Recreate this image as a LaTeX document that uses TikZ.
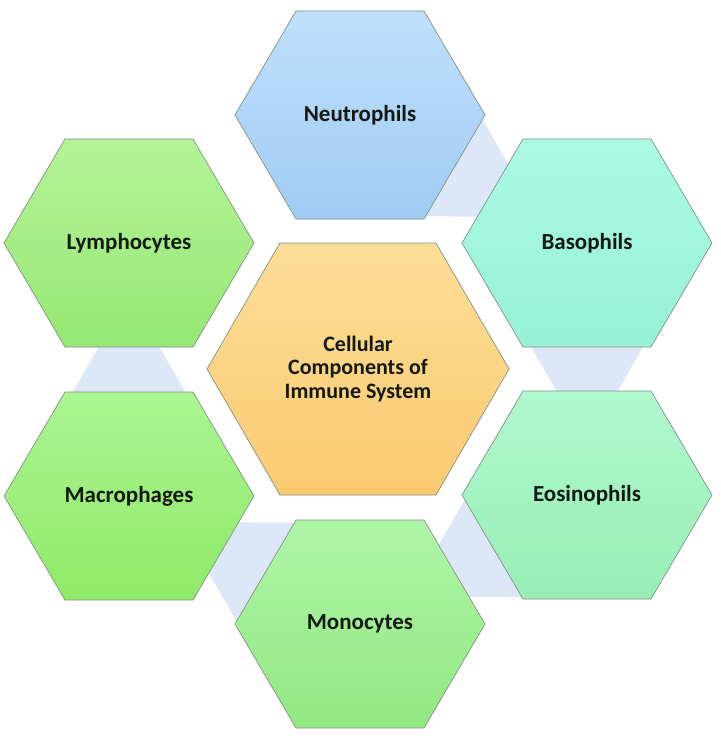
\documentclass[tikz,border=0pt]{standalone}
\usepackage{fontspec}
\setmainfont{Carlito}
\usetikzlibrary{calc}
\definecolor{neuTop}{RGB}{192,223,250}
\definecolor{neuBot}{RGB}{160,204,245}
\definecolor{basTop}{RGB}{172,250,228}
\definecolor{basBot}{RGB}{150,242,214}
\definecolor{eosTop}{RGB}{176,248,205}
\definecolor{eosBot}{RGB}{152,238,182}
\definecolor{monTop}{RGB}{176,245,168}
\definecolor{monBot}{RGB}{146,232,130}
\definecolor{macTop}{RGB}{170,245,145}
\definecolor{macBot}{RGB}{144,234,104}
\definecolor{lymTop}{RGB}{180,243,152}
\definecolor{lymBot}{RGB}{150,232,115}
\definecolor{cenTop}{RGB}{252,222,152}
\definecolor{cenBot}{RGB}{250,202,112}
\definecolor{connfill}{RGB}{220,231,247}
\definecolor{hexgray}{RGB}{130,145,135}
\definecolor{txt}{RGB}{20,25,20}
\tikzset{
  hexline/.style={draw=hexgray, line width=0.7pt},
  cell/.style={font=\bfseries\fontsize{23}{25}\selectfont, text=txt, align=center, inner sep=0pt},
  hub/.style={font=\bfseries\fontsize{22}{23.5}\selectfont, text=txt, align=center, inner sep=0pt},
  link/.style={fill=connfill, draw=none},
}
\newcommand\hexcell[3]{%
  \path[hexline, top color=#2, bottom color=#3]
    ($(#1)+(125,0)$) -- ($(#1)+(64,-104)$) -- ($(#1)+(-64,-104)$) --
    ($(#1)+(-125,0)$) -- ($(#1)+(-64,104)$) -- ($(#1)+(64,104)$) -- cycle;}
% connector from #1 to #2, narrowing toward #2, rotation #3
\newcommand\linkpiece[3]{%
  \begin{scope}[shift={($(#1)!0.5!(#2)$)}, rotate=#3]
    \path[link] (-60.6pt,-30pt) -- (60.6pt,-30pt) -- (26pt,30pt) -- (-26pt,30pt) -- cycle;
  \end{scope}}
\begin{document}
\begin{tikzpicture}[x=1pt,y=-1pt]
  \useasboundingbox (0,0) rectangle (720,738);
  \fill[white] (0,0) rectangle (720,738);
  % centres
  \coordinate (c-neu) at (360,115);
  \coordinate (c-bas) at (587,243);
  \coordinate (c-eos) at (587,495);
  \coordinate (c-mon) at (360,624);
  \coordinate (c-mac) at (129,496);
  \coordinate (c-lym) at (129,243);
  \coordinate (c-cen) at (358,369);
  % connectors (behind)
  \linkpiece{c-neu}{c-bas}{-120}
  \linkpiece{c-bas}{c-eos}{180}
  \linkpiece{c-eos}{c-mon}{120}
  \linkpiece{c-mon}{c-mac}{60}
  \linkpiece{c-mac}{c-lym}{0}
  % hexagons
  \hexcell{c-neu}{neuTop}{neuBot}
  \hexcell{c-bas}{basTop}{basBot}
  \hexcell{c-eos}{eosTop}{eosBot}
  \hexcell{c-mon}{monTop}{monBot}
  \hexcell{c-mac}{macTop}{macBot}
  \hexcell{c-lym}{lymTop}{lymBot}
  \path[hexline, top color=cenTop, bottom color=cenBot]
    ($(c-cen)+(151,0)$) -- ($(c-cen)+(78,-126)$) -- ($(c-cen)+(-78,-126)$) --
    ($(c-cen)+(-151,0)$) -- ($(c-cen)+(-78,126)$) -- ($(c-cen)+(78,126)$) -- cycle;
  % labels
  \node[cell] (neu) at (c-neu) {Neutrophils};
  \node[cell] (bas) at (c-bas) {Basophils};
  \node[cell] (eos) at (c-eos) {Eosinophils};
  \node[cell] (mon) at (c-mon) {Monocytes};
  \node[cell] (mac) at (c-mac) {Macrophages};
  \node[cell] (lym) at (c-lym) {Lymphocytes};
  \node[hub] (cen) at (c-cen) {Cellular\\Components of\\Immune System};
\end{tikzpicture}
\end{document}
